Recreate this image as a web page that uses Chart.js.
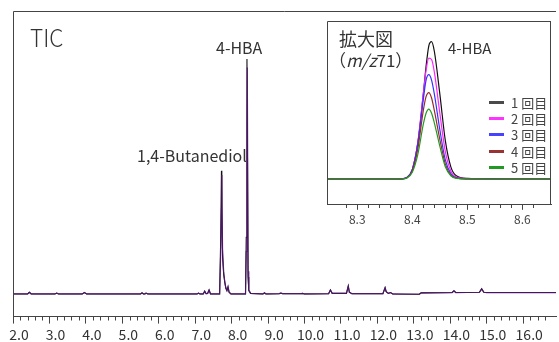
<!DOCTYPE html>
<html>
<head>
<meta charset="utf-8">
<script src="https://cdn.jsdelivr.net/npm/chart.js@4.4.1/dist/chart.umd.min.js"></script>
<style>
  html, body { margin: 0; padding: 0; background: #fff; }
  #wrap { position: relative; width: 559px; height: 342px; overflow: hidden; font-family: "Noto Sans CJK JP", "Noto Sans", sans-serif; color: #333; }
  #mainChart { position: absolute; left: 0; top: 0; }
  #insetChart { position: absolute; left: 324px; top: 21px; background: #fff; }
  .lbl { position: absolute; white-space: nowrap; line-height: 1; }
  .legend { position: absolute; left: 489px; top: 94px; font-size: 13px; color: #444; }
  .legend div { height: 16.3px; display: flex; align-items: center; }
  .legend span.sw { display: inline-block; width: 15px; height: 3px; margin-right: 7px; }
</style>
</head>
<body>
<div id="wrap">
  <canvas id="mainChart" width="559" height="345"></canvas>
  <canvas id="insetChart" width="230" height="208"></canvas>
  <div class="lbl" style="left:30px; top:24px; font-size:25px; font-weight:300; transform:scaleX(0.9); transform-origin:left;">TIC</div>
  <div class="lbl" style="left:137px; top:147px; font-size:16px;">1,4-Butanediol</div>
  <div class="lbl" style="left:216px; top:39px; font-size:16px;">4-HBA</div>
  <div class="lbl" style="left:339px; top:29px; font-size:18px;">拡大図</div>
  <div class="lbl" style="left:329px; top:51px; font-size:17px;">（<i>m/z</i>71）</div>
  <div class="lbl" style="left:448px; top:40px; font-size:15px;">4-HBA</div>
  <div class="legend" id="legend"></div>
</div>
<script>
// TIC trace (retention time, min) - runs overlay, black = run 1, purple = last run
const ticTimes = [2.0, 2.4, 2.45, 2.5, 3.15, 3.2, 3.25, 3.9, 3.96, 4.02, 5.5, 5.54, 5.58, 5.62, 5.65, 5.7,
  7.05, 7.09, 7.13, 7.22, 7.26, 7.3, 7.34, 7.38, 7.42, 7.67, 7.7, 7.72, 7.73, 7.75, 7.78, 7.81, 7.84, 7.87,
  7.9, 7.93, 7.98, 8.38, 8.4, 8.42, 8.43, 8.45, 8.47, 8.52, 8.86, 8.9, 8.94, 9.3, 9.35, 9.4, 9.9, 9.95,
  10.0, 10.66, 10.71, 10.76, 11.15, 11.2, 11.23, 11.3, 12.15, 12.21, 12.24, 12.3, 12.36, 12.42, 13.15,
  13.2, 14.05, 14.1, 14.15, 14.8, 14.86, 14.92, 15.0, 16.9];
const ticRun1 = [0, 0, 0.006, 0, 0, 0.003, 0, 0, 0.005, 0, 0, 0.004, 0, 0, 0.003, 0,
  0, 0.003, 0, 0, 0.01, 0.001, 0.002, 0.014, 0, 0, 0.2, 0.435, 0.3, 0.13, 0.07, 0.042, 0.02, 0.012,
  0.024, 0.006, 0, 0, 0.2, 0.83, 0.6, 0.06, 0.012, 0.002, 0, 0.004, 0, 0.001, 0.003, 0.001, 0.001, 0.002,
  0, 0.001, 0.014, 0.002, 0.002, 0.028, 0.006, 0.001, 0.001, 0.022, 0.008, 0.002, 0.005, 0, -0.001,
  0.004, 0.005, 0.011, 0.005, 0.006, 0.018, 0.006, 0.005, 0.005];
const ticRun5 = [0, 0, 0.006, 0, 0, 0.003, 0, 0, 0.005, 0, 0, 0.004, 0, 0, 0.003, 0,
  0, 0.003, 0, 0, 0.01, 0.001, 0.002, 0.014, 0, 0, 0.15, 0.3, 0.42, 0.16, 0.08, 0.045, 0.022, 0.012,
  0.026, 0.006, 0, 0, 0.15, 0.6, 0.8, 0.08, 0.014, 0.002, 0, 0.004, 0, 0.001, 0.003, 0.001, 0.001, 0.002,
  0, 0.001, 0.014, 0.002, 0.002, 0.028, 0.006, 0.001, 0.001, 0.022, 0.008, 0.002, 0.005, 0, -0.001,
  0.004, 0.005, 0.011, 0.005, 0.006, 0.018, 0.006, 0.005, 0.005];

// m/z 71 zoom around 4-HBA
const zoomTimes = [8.245, 8.3, 8.36, 8.38, 8.39, 8.4, 8.41, 8.42, 8.425, 8.43, 8.435, 8.44, 8.45, 8.46,
  8.47, 8.48, 8.5, 8.55, 8.6, 8.652];
const zoomRun1 = [0, 0, 0, 0.002, 0.012, 0.07, 0.26, 0.62, 0.82, 0.97, 1.0, 0.93, 0.62, 0.28, 0.09, 0.025, 0.006, 0.003, 0.002, 0.002];
const zoomRun2 = [0, 0, 0, 0.002, 0.012, 0.07, 0.27, 0.62, 0.79, 0.88, 0.87, 0.78, 0.48, 0.2, 0.06, 0.015, 0.004, 0.002, 0.002, 0.002];
const zoomRun3 = [0, 0, 0, 0.002, 0.012, 0.07, 0.26, 0.58, 0.72, 0.76, 0.72, 0.62, 0.36, 0.14, 0.04, 0.01, 0.003, 0.002, 0.001, 0.001];
const zoomRun4 = [0, 0, 0, 0.002, 0.01, 0.06, 0.22, 0.5, 0.6, 0.63, 0.59, 0.5, 0.29, 0.11, 0.03, 0.008, 0.002, 0.001, 0.001, 0.001];
const zoomRun5 = [0, 0, 0, 0.002, 0.008, 0.05, 0.18, 0.4, 0.48, 0.51, 0.48, 0.41, 0.24, 0.09, 0.025, 0.006, 0.002, 0.001, 0.001, 0.001];

const runLabels = ["1 回目", "2 回目", "3 回目", "4 回目", "5 回目"];
const runColors = ["#111111", "#ff22ff", "#3333ff", "#992a2a", "#229922"];
const legendColors = ["#4a4a4a", "#ff33ff", "#4444ff", "#993333", "#229922"];

function toPoints(times, values) {
  return times.map((t, i) => ({ x: t, y: values[i] }));
}

function isMultiple(value, step) {
  const q = value / step;
  return Math.abs(q - Math.round(q)) < 1e-6;
}

// frame + minor ticks drawn from the scale's own tick positions
function framePlugin(sides, minorLen, majorStep, minorStep) {
  return {
    id: "frame",
    afterDraw(chart) {
      const { ctx, chartArea } = chart;
      const x = chart.scales.x;
      ctx.save();
      ctx.strokeStyle = "#444";
      ctx.lineWidth = 1;
      ctx.beginPath();
      const l = Math.round(chartArea.left) + 0.5;
      const t = Math.round(chartArea.top) + 0.5;
      const r = Math.round(chartArea.right) - 0.5;
      const b = Math.round(chartArea.bottom);
      if (sides.includes("left")) { ctx.moveTo(l, b); ctx.lineTo(l, t); }
      if (sides.includes("top")) { ctx.moveTo(l, t); ctx.lineTo(chartArea.right, t); }
      if (sides.includes("right")) { ctx.moveTo(r, t); ctx.lineTo(r, b); }
      x.ticks.forEach((tick) => {
        if (isMultiple(tick.value, minorStep) && !isMultiple(tick.value, majorStep)) {
          const px = Math.round(x.getPixelForValue(tick.value)) + 0.5;
          ctx.moveTo(px, b);
          ctx.lineTo(px, b + minorLen);
        }
      });
      ctx.stroke();
      ctx.restore();
    }
  };
}

const tickFont = { family: "'Noto Sans CJK JP', 'Noto Sans', sans-serif", size: 14, lineHeight: 1.1 };

new Chart(document.getElementById("mainChart"), {
  type: "line",
  data: {
    datasets: [
      { data: toPoints(ticTimes, ticRun5), borderColor: "rgba(80, 20, 110, 0.9)", borderWidth: 1.2 },
      { data: toPoints(ticTimes, ticRun1), borderColor: "#111", borderWidth: 1.1 }
    ]
  },
  options: {
    responsive: false,
    animation: false,
    devicePixelRatio: 1,
    layout: { padding: { left: 13, top: 11, right: 0, bottom: 0 } },
    elements: { point: { radius: 0 }, line: { tension: 0 } },
    plugins: { legend: { display: false }, tooltip: { enabled: false } },
    scales: {
      x: {
        type: "linear",
        min: 2.0,
        max: 16.9,
        border: { display: true, color: "#444", width: 1 },
        grid: {
          drawOnChartArea: false,
          tickLength: 7,
          tickColor: (c) => (c.tick && isMultiple(c.tick.value, 1) ? "#444" : "rgba(0,0,0,0)")
        },
        ticks: {
          stepSize: 0.2,
          autoSkip: false,
          maxRotation: 0,
          minRotation: 0,
          padding: 3,
          labelOffset: 6,
          color: "#333",
          font: tickFont,
          callback: (v) => (isMultiple(v, 1) ? Number(v).toFixed(1) : "")
        }
      },
      y: { display: false, min: -0.08, max: 1.0 }
    }
  },
  plugins: [framePlugin(["left", "top"], 3.5, 1, 0.2)]
});

const zoomSeries = [zoomRun1, zoomRun2, zoomRun3, zoomRun4, zoomRun5];

new Chart(document.getElementById("insetChart"), {
  type: "line",
  data: {
    datasets: zoomSeries.map((values, i) => ({
      label: runLabels[i],
      data: toPoints(zoomTimes, values),
      borderColor: runColors[i],
      borderWidth: 1.2,
      order: 5 - i
    }))
  },
  options: {
    responsive: false,
    animation: false,
    devicePixelRatio: 1,
    layout: { padding: { left: 0, top: 0, right: 1, bottom: 0 } },
    elements: { point: { radius: 0 }, line: { cubicInterpolationMode: "monotone" } },
    plugins: { legend: { display: false }, tooltip: { enabled: false } },
    scales: {
      x: {
        type: "linear",
        min: 8.245,
        max: 8.652,
        border: { display: true, color: "#444", width: 1 },
        grid: {
          drawOnChartArea: false,
          tickLength: 5,
          tickColor: (c) => (c.tick && isMultiple(c.tick.value, 0.1) ? "#444" : "rgba(0,0,0,0)")
        },
        ticks: {
          stepSize: 0.02,
          autoSkip: false,
          maxRotation: 0,
          minRotation: 0,
          padding: 3,
          color: "#444",
          font: { family: "'Noto Sans CJK JP', 'Noto Sans', sans-serif", size: 12, lineHeight: 1.1 },
          callback: (v) => (isMultiple(v, 0.1) ? Number(v).toFixed(1) : "")
        }
      },
      y: { display: false, min: -0.186, max: 1.15 }
    }
  },
  plugins: [framePlugin(["left", "top", "right"], 3, 0.1, 0.02)]
});

document.getElementById("legend").innerHTML = runLabels.map((label, i) => `
  <div><span class="sw" style="background:${legendColors[i]}"></span>${label}</div>
`).join("");
</script>
</body>
</html>
